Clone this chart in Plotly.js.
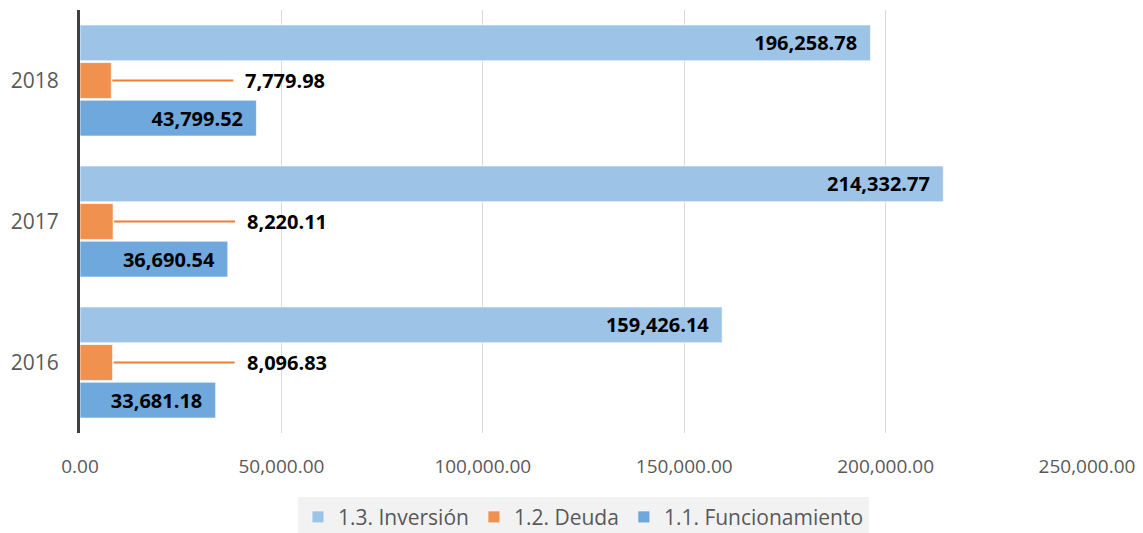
<!DOCTYPE html>
<html>
<head>
<meta charset="utf-8">
<script src="https://cdn.plot.ly/plotly-3.0.1.min.js"></script>
<style>html,body{margin:0;padding:0;background:#fff;}#chart{width:1143px;height:533px;}</style>
</head>
<body>
<div id="chart"></div>
<script>
const years = ['2016', '2017', '2018'];
const funcionamiento = [33681.18, 36690.54, 43799.52];
const deuda = [8096.83, 8220.11, 7779.98];
const inversion = [159426.14, 214332.77, 196258.78];
const xTicks = [0, 50000, 100000, 150000, 200000, 250000];

const fmt = v => v.toLocaleString('en-US', {minimumFractionDigits: 2, maximumFractionDigits: 2});
const FONT = '"Open Sans", "Noto Sans", sans-serif';
const labelFont = {family: FONT, size: 20, color: '#000000'};
const PAD = '\u00a0\u00a0';

const barLine = {color: 'rgba(255,255,255,0.7)', width: 1};

const traces = [
  {
    type: 'bar', orientation: 'h', name: '1.1. Funcionamiento',
    y: years, x: funcionamiento,
    marker: {color: '#6FA8DC', line: barLine},
    text: funcionamiento.map(v => '<b>' + fmt(v) + '</b>' + PAD),
    textposition: 'inside', insidetextanchor: 'end',
    textfont: labelFont
  },
  {
    type: 'bar', orientation: 'h', name: '1.2. Deuda',
    y: years, x: deuda,
    marker: {color: '#F19150', line: barLine}
  },
  {
    type: 'bar', orientation: 'h', name: '1.3. Inversión',
    y: years, x: inversion,
    marker: {color: '#9DC3E6', line: barLine},
    text: inversion.map(v => '<b>' + fmt(v) + '</b>' + PAD),
    textposition: 'inside', insidetextanchor: 'end',
    textfont: labelFont
  }
];

const annotations = years.map((yr, i) => ({
  x: deuda[i], y: i, xref: 'x', yref: 'y',
  text: '<b>' + fmt(deuda[i]) + '</b>',
  showarrow: true, arrowhead: 0, arrowwidth: 2, arrowcolor: '#ED7D31',
  ax: 132, ay: 0, axref: 'pixel', ayref: 'pixel',
  xanchor: 'left', yanchor: 'middle',
  font: labelFont, standoff: 1, startstandoff: 10
}));

const layout = {
  width: 1143, height: 533,
  margin: {l: 80, r: 56, t: 10, b: 100},
  paper_bgcolor: '#ffffff', plot_bgcolor: '#ffffff',
  barmode: 'group', bargap: 0.2, bargroupgap: 0.045,
  font: {family: FONT, color: '#595959', size: 19},
  xaxis: {
    range: [0, 250000], tickvals: xTicks, ticktext: xTicks.map(fmt),
    showgrid: true, gridcolor: '#D9D9D9', gridwidth: 1,
    zeroline: false, showline: false, ticks: '',
    ticklabelstandoff: 20, automargin: false,
    tickfont: {family: FONT, size: 19, color: '#595959'}
  },
  yaxis: {
    type: 'category', categoryorder: 'array', categoryarray: years,
    range: [-0.5, 2.5],
    showgrid: false, zeroline: false,
    showline: true, linecolor: '#404040', linewidth: 3,
    ticks: '', ticklabelstandoff: 14, automargin: false,
    tickfont: {family: FONT, size: 21, color: '#595959'}
  },
  legend: {
    orientation: 'h', traceorder: 'reversed',
    xref: 'paper', x: 0.5, xanchor: 'center',
    yref: 'container', y: 0.068, yanchor: 'top',
    bgcolor: '#F2F2F2', font: {family: FONT, size: 21, color: '#595959'}
  },
  annotations: annotations,
  showlegend: true
};

Plotly.newPlot('chart', traces, layout, {displayModeBar: false});
</script>
</body>
</html>
